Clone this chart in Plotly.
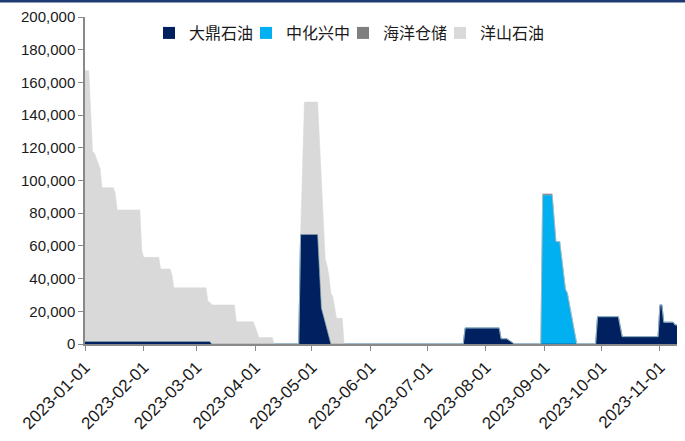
import plotly.graph_objects as go

# ---- data ----
dading_dates = ["2023-01-01", "2023-03-08", "2023-03-09", "2023-04-24", "2023-04-25", "2023-05-04",
                "2023-05-06", "2023-05-11", "2023-07-20", "2023-07-21", "2023-08-08", "2023-08-09",
                "2023-08-12", "2023-08-16", "2023-09-28", "2023-09-29", "2023-10-10", "2023-10-12",
                "2023-10-31", "2023-11-01", "2023-11-02", "2023-11-03", "2023-11-08", "2023-11-09",
                "2023-11-10"]
dading_vals = [1500, 1500, 0, 0, 67000, 67000,
               22000, 0, 0, 9800, 9800, 3200,
               3200, 0, 0, 16700, 16700, 4500,
               4500, 23900, 23900, 13300, 13300, 11600,
               11600]

zhonghua_dates = ["2023-01-01", "2023-08-30", "2023-08-31", "2023-09-05", "2023-09-07", "2023-09-09",
                  "2023-09-12", "2023-09-13", "2023-09-16", "2023-09-18", "2023-11-10"]
zhonghua_vals = [0, 0, 91000, 91000, 62600, 62600,
                 33500, 31200, 12800, 0, 0]

haiyang_dates = ["2023-01-01", "2023-08-30", "2023-08-31", "2023-09-05", "2023-09-06", "2023-11-10"]
haiyang_vals = [0, 0, 800, 800, 0, 0]

yangshan_dates = ["2023-01-01", "2023-01-03", "2023-01-05", "2023-01-06", "2023-01-09", "2023-01-10",
                  "2023-01-16", "2023-01-17", "2023-01-18", "2023-01-30", "2023-01-31", "2023-02-01",
                  "2023-02-09", "2023-02-10", "2023-02-15", "2023-02-16", "2023-02-17", "2023-03-06",
                  "2023-03-07", "2023-03-09", "2023-03-21", "2023-03-22", "2023-03-31", "2023-04-03",
                  "2023-04-10", "2023-04-11", "2023-04-25", "2023-04-27", "2023-05-06", "2023-05-08",
                  "2023-05-09", "2023-05-10", "2023-05-11", "2023-05-12", "2023-05-14", "2023-05-17",
                  "2023-05-18", "2023-11-10"]
yangshan_vals = [165700, 165700, 116100, 115100, 105900, 94100,
                 94100, 90700, 80500, 80500, 56000, 51500,
                 51500, 44400, 44400, 40700, 32900, 32900,
                 24400, 23900, 23900, 13600, 13600, 3900,
                 3900, 0, 0, 81000, 81000, 39000,
                 39000, 37000, 31000, 29000, 15700, 15700,
                 0, 0]

series_names = ["大鼎石油", "中化兴中", "海洋仓储", "洋山石油"]
series_colors = ["#002060", "#00B0F0", "#7F7F7F", "#D9D9D9"]

tick_labels = ["2023-01-01", "2023-02-01", "2023-03-01", "2023-04-01", "2023-05-01", "2023-06-01",
               "2023-07-01", "2023-08-01", "2023-09-01", "2023-10-01", "2023-11-01"]

x_start, x_end = "2023-01-01", "2023-11-10"

# ---- figure ----
fig = go.Figure()
all_series = [(dading_dates, dading_vals), (zhonghua_dates, zhonghua_vals),
              (haiyang_dates, haiyang_vals), (yangshan_dates, yangshan_vals)]

for (d, v), name, col in zip(all_series, series_names, series_colors):
    fig.add_trace(go.Scatter(
        x=d, y=v, name=name, mode="lines",
        stackgroup="one", stackgaps="interpolate",
        line=dict(width=0.5, color=col), fillcolor=col,
        showlegend=False, hoverinfo="x+y+name"))

# legend entries with square symbols, one small legend per entry for tight spacing
legend_ids = ["legend", "legend2", "legend3", "legend4"]
for name, col, lid in zip(series_names, series_colors, legend_ids):
    fig.add_trace(go.Scatter(
        x=[None], y=[None], name=name, mode="markers", legend=lid,
        marker=dict(symbol="square", size=12, color=col), showlegend=True))

legend_style = dict(orientation="h", xanchor="left", y=0.951, yanchor="middle",
                    font=dict(family="Noto Sans CJK SC", size=16, color="#1a1a1a"),
                    bgcolor="rgba(0,0,0,0)", itemwidth=30)
legend_layout = {}
for i, lid in enumerate(legend_ids):
    legend_layout[lid] = dict(legend_style, x=(64 + i * 97) / 592)

axis_col = "#898989"
fig.update_layout(
    width=685, height=441,
    margin=dict(l=85, r=8, t=17, b=97, autoexpand=False),
    paper_bgcolor="white", plot_bgcolor="white",
    font=dict(family="Liberation Sans, Noto Sans CJK SC", size=15, color="#1a1a1a"),
    showlegend=True,
    xaxis=dict(type="date", range=[x_start, x_end], automargin=False,
               tickmode="array", tickvals=tick_labels, ticktext=tick_labels,
               tickangle=-45, tickfont=dict(size=17),
               showline=True, linecolor=axis_col, linewidth=1.5,
               ticks="outside", ticklen=5, tickcolor=axis_col, tickwidth=1,
               showgrid=False, zeroline=False),
    yaxis=dict(range=[0, 200000], dtick=20000, tickformat=",", automargin=False,
               tickfont=dict(size=15),
               showline=True, linecolor=axis_col, linewidth=1.5,
               ticks="outside", ticklen=5, tickcolor=axis_col, tickwidth=1,
               showgrid=False, zeroline=False),
    shapes=[dict(type="rect", xref="paper", yref="paper",
                 x0=-0.2, x1=1.05, y0=(327 + 17 - 2.5) / 327, y1=(327 + 17 + 3) / 327,
                 fillcolor="#1F3A70", line=dict(width=0))],
    **legend_layout,
)

fig.write_html("out.html", config={"displayModeBar": False},
               post_script="document.body.style.margin='0px';")
